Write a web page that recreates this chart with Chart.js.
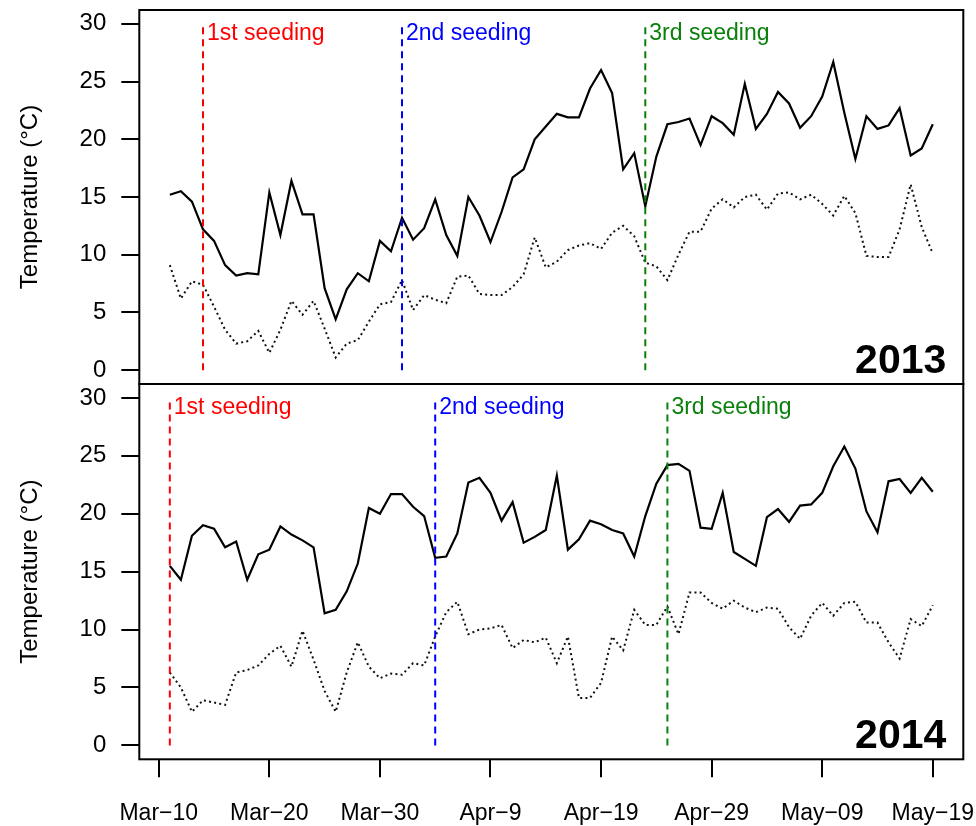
<!DOCTYPE html>
<html><head><meta charset="utf-8">
<script src="https://cdn.jsdelivr.net/npm/chart.js@4"></script>
<style>
html,body{margin:0;padding:0;background:#fff;}
#wrap{position:relative;width:976px;height:826px;background:#fff;overflow:hidden;}
canvas{position:absolute;left:0;top:0;}
</style></head><body>
<div id="wrap"><canvas id="c1" width="976" height="826"></canvas><canvas id="c2" width="976" height="826"></canvas></div>
<script>
// Days counted from Mar-10 (day 0); observations run from Mar-11 (day 1) to May-19 (day 70)
const xTickDays = [0, 10, 20, 30, 40, 50, 60, 70];
const xTickLabels = ['Mar\u221210', 'Mar\u221220', 'Mar\u221230', 'Apr\u22129', 'Apr\u221219', 'Apr\u221229', 'May\u221209', 'May\u221219'];
const yTicks = [0, 5, 10, 15, 20, 25, 30];

const max2013 = [15.2,15.5,14.6,12.2,11.2,9.1,8.2,8.4,8.3,15.4,11.7,16.4,13.5,13.5,7.1,4.4,7.0,8.4,7.7,11.2,
  10.3,13.2,11.3,12.3,14.8,11.7,9.9,15.0,13.4,11.1,13.7,16.7,17.4,20.0,21.1,22.2,21.9,21.9,24.4,26.0,
  24.0,17.4,18.8,14.2,18.5,21.3,21.5,21.8,19.5,22.0,21.4,20.4,24.8,20.9,22.2,24.1,23.1,21.0,22.0,23.7,
  26.7,22.3,18.3,22.0,20.9,21.2,22.7,18.6,19.2,21.3];
const min2013 = [9.1,6.2,7.7,7.4,5.5,3.5,2.3,2.5,3.4,1.5,3.5,6.0,4.8,6.0,3.6,1.1,2.3,2.6,4.2,5.7,
  5.9,7.8,5.2,6.5,6.1,5.8,8.1,8.2,6.6,6.5,6.5,7.2,8.3,11.5,8.9,9.4,10.4,10.8,11.0,10.5,
  11.9,12.5,11.6,9.3,9.0,7.8,10.0,12.0,12.0,14.0,14.8,14.1,15.0,15.2,13.9,15.3,15.4,14.8,15.2,14.4,
  13.4,15.1,13.6,9.9,9.8,9.8,12.2,16.1,12.4,10.1];
const max2014 = [15.5,14.3,18.1,19.0,18.7,17.1,17.6,14.3,16.5,16.9,18.9,18.2,17.7,17.1,11.4,11.7,13.3,15.7,20.5,20.0,
  21.7,21.7,20.6,19.8,16.2,16.3,18.3,22.7,23.1,21.8,19.4,21.0,17.5,18.0,18.6,23.3,16.9,17.8,19.4,19.1,
  18.6,18.3,16.3,19.8,22.6,24.2,24.3,23.7,18.8,18.7,21.8,16.7,16.1,15.5,19.7,20.4,19.3,20.7,20.8,21.8,
  24.1,25.8,23.9,20.2,18.4,22.8,23.0,21.8,23.1,21.9];
const min2014 = [6.3,5.0,2.9,3.9,3.7,3.5,6.3,6.5,6.9,7.9,8.6,6.8,9.9,7.4,4.7,2.9,6.3,8.9,6.8,5.8,
  6.2,6.1,7.1,6.9,9.4,11.5,12.4,9.6,10.0,10.1,10.4,8.4,9.1,8.9,9.3,7.1,9.4,4.1,4.1,5.4,
  9.4,8.2,11.7,10.4,10.4,12.0,9.6,13.2,13.2,12.3,11.8,12.5,11.9,11.5,11.9,11.8,10.2,9.2,11.2,12.3,
  11.2,12.3,12.4,10.6,10.6,8.9,7.5,10.9,10.3,12.1];

const seedLabels = ['1st seeding', '2nd seeding', '3rd seeding'];
const seedColors = ['#ff0000', '#0000ff', '#0a800a'];
const seedDays2013 = [4, 22, 44];   // Mar-14, Apr-1, Apr-23
const seedDays2014 = [1, 25, 46];   // Mar-11, Apr-4, Apr-25

const FONT = "'Liberation Sans', Arial, Helvetica, sans-serif";
Chart.defaults.font.family = FONT;
Chart.defaults.color = '#000';

const PLOT_LEFT = 139.3, PLOT_RIGHT = 963.3;
const PANEL1_TOP = 10, PANEL_MID = 384, PANEL2_BOTTOM = 759.3;

function zeroPad(s) { s.paddingTop = 0; s.paddingBottom = 0; s.paddingLeft = 0; s.paddingRight = 0; }

function makeChart(id, maxs, mins, seedDays, year, isBottom) {
  const toXY = arr => arr.map((v, i) => ({x: i + 1, y: v}));
  const datasets = [];
  seedDays.forEach((d, k) => {
    datasets.push({data: [{x: d, y: 0}, {x: d, y: 30}], borderColor: seedColors[k], borderWidth: 2,
      borderDash: [7, 5], pointRadius: 0, tension: 0});
  });
  datasets.push({data: toXY(maxs), borderColor: '#000', borderWidth: 2.2, pointRadius: 0, tension: 0});
  datasets.push({data: toXY(mins), borderColor: '#111', borderWidth: 2, borderDash: [2, 3.2], pointRadius: 0, tension: 0});

  const overlay = {
    id: 'overlay' + id,
    afterDatasetsDraw(chart) {
      const {ctx, chartArea: a, scales: {x, y}} = chart;
      ctx.save();
      ctx.font = '23px ' + FONT;
      ctx.textAlign = 'left';
      ctx.textBaseline = 'alphabetic';
      seedDays.forEach((d, k) => {
        ctx.fillStyle = seedColors[k];
        ctx.fillText(seedLabels[k], x.getPixelForValue(d) + 4, y.getPixelForValue(30) + 16);
      });
      ctx.font = 'bold 41px ' + FONT;
      ctx.textAlign = 'right';
      ctx.fillStyle = '#000';
      ctx.fillText(year, a.right - 17, y.getPixelForValue(0) + 3);
      ctx.lineWidth = 2;
      ctx.strokeStyle = '#000';
      ctx.strokeRect(a.left, a.top, a.right - a.left, a.bottom - a.top);
      ctx.restore();
    }
  };

  return new Chart(document.getElementById(id), {
    type: 'line',
    data: {datasets},
    plugins: [overlay],
    options: {
      responsive: false,
      animation: false,
      events: [],
      layout: {
        autoPadding: false,
        padding: isBottom
          ? {left: 0, right: 976 - PLOT_RIGHT, top: PANEL_MID, bottom: 0}
          : {left: 0, right: 976 - PLOT_RIGHT, top: PANEL1_TOP, bottom: 826 - PANEL_MID}
      },
      plugins: {legend: {display: false}, tooltip: {enabled: false}},
      scales: {
        x: {
          type: 'linear', display: isBottom, min: -1.76, max: 72.76,
          afterBuildTicks: s => { s.ticks = xTickDays.map(v => ({value: v})); },
          afterFit: s => { if (isBottom) s.height = 826 - PANEL2_BOTTOM; zeroPad(s); },
          ticks: {callback: (v, i) => xTickLabels[i], autoSkip: false, maxRotation: 0, padding: 23,
                  color: '#000', font: {size: 23}},
          grid: {drawOnChartArea: false, drawTicks: true, tickLength: 18, color: '#000', lineWidth: 2},
          border: {display: false}
        },
        y: {
          type: 'linear', min: -1.2, max: 31.2,
          afterBuildTicks: s => { s.ticks = yTicks.map(v => ({value: v})); },
          afterFit: s => { s.width = PLOT_LEFT; zeroPad(s); },
          ticks: {padding: 15, color: '#000', font: {size: 24}},
          grid: {drawOnChartArea: false, drawTicks: true, tickLength: 18, color: '#000', lineWidth: 2},
          border: {display: false},
          title: {display: true, text: 'Temperature (\u00B0C)', color: '#000', font: {size: 24},
                  padding: {top: 16, bottom: 0}}
        }
      }
    }
  });
}

makeChart('c1', max2013, min2013, seedDays2013, '2013', false);
makeChart('c2', max2014, min2014, seedDays2014, '2014', true);
</script>
</body></html>
